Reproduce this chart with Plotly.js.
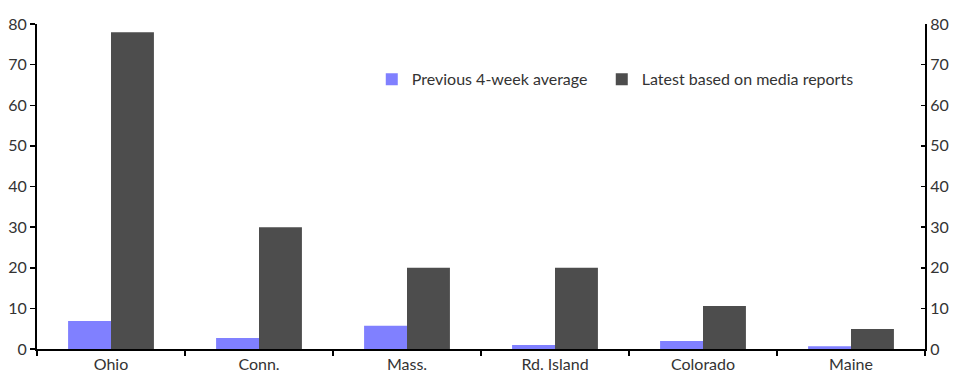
<!DOCTYPE html>
<html>
<head>
<meta charset="utf-8">
<script src="https://cdn.plot.ly/plotly-3.0.1.min.js"></script>
<style>html,body{margin:0;padding:0;background:#fff;}#chart{width:964px;height:379px;}</style>
</head>
<body>
<div id="chart"></div>
<script>
const categories = ["Ohio", "Conn.", "Mass.", "Rd. Island", "Colorado", "Maine"];
const previousAvg = [6.9, 2.7, 5.7, 1.0, 2.0, 0.7];
const latestMedia = [78, 30, 20, 20, 10.6, 4.9];
const seriesNames = ["Previous 4-week average", "Latest based on media reports"];
const yTicks = [0, 10, 20, 30, 40, 50, 60, 70, 80];

const font = {family: "Lato, 'Open Sans', sans-serif", size: 16, color: "#333"};

const traces = [
  {type: "bar", name: seriesNames[0], x: categories, y: previousAvg, marker: {color: "#8080FF"}, legend: "legend"},
  {type: "bar", name: seriesNames[1], x: categories, y: latestMedia, marker: {color: "#4D4D4D"}, legend: "legend2"},
  {type: "bar", x: categories, y: categories.map(() => null), yaxis: "y2", showlegend: false, hoverinfo: "skip"}
];

const legendBase = {orientation: "h", y: 0.83, xanchor: "left", yanchor: "middle",
                    font: font, itemwidth: 30, bgcolor: "rgba(0,0,0,0)"};

const layout = {
  width: 964, height: 379,
  margin: {l: 37, r: 39, t: 24, b: 30},
  paper_bgcolor: "#fff", plot_bgcolor: "#fff",
  font: font,
  barmode: "group",
  bargap: 0.42,
  bargroupgap: 0,
  showlegend: true,
  legend: Object.assign({}, legendBase, {x: 0.377}),
  legend2: Object.assign({}, legendBase, {x: 0.636}),
  xaxis: {
    type: "category", showline: true, linecolor: "#000", linewidth: 2,
    ticks: "outside", tickson: "boundaries", ticklen: 5, tickwidth: 2, tickcolor: "#000",
    showgrid: false, zeroline: false, tickfont: font
  },
  yaxis: {
    range: [0, 80], tickvals: yTicks, showline: true, linecolor: "#000", linewidth: 2,
    ticks: "outside", ticklen: 5, tickwidth: 1.5, tickcolor: "#000",
    showgrid: false, zeroline: false, tickfont: font
  },
  yaxis2: {
    range: [0, 80], tickvals: yTicks, overlaying: "y", side: "right",
    showline: true, linecolor: "#000", linewidth: 2,
    ticks: "inside", ticklen: 4, tickwidth: 1.5, tickcolor: "#000",
    showgrid: false, zeroline: false, tickfont: font
  }
};

Plotly.newPlot("chart", traces, layout, {displayModeBar: false, staticPlot: true});
</script>
</body>
</html>
